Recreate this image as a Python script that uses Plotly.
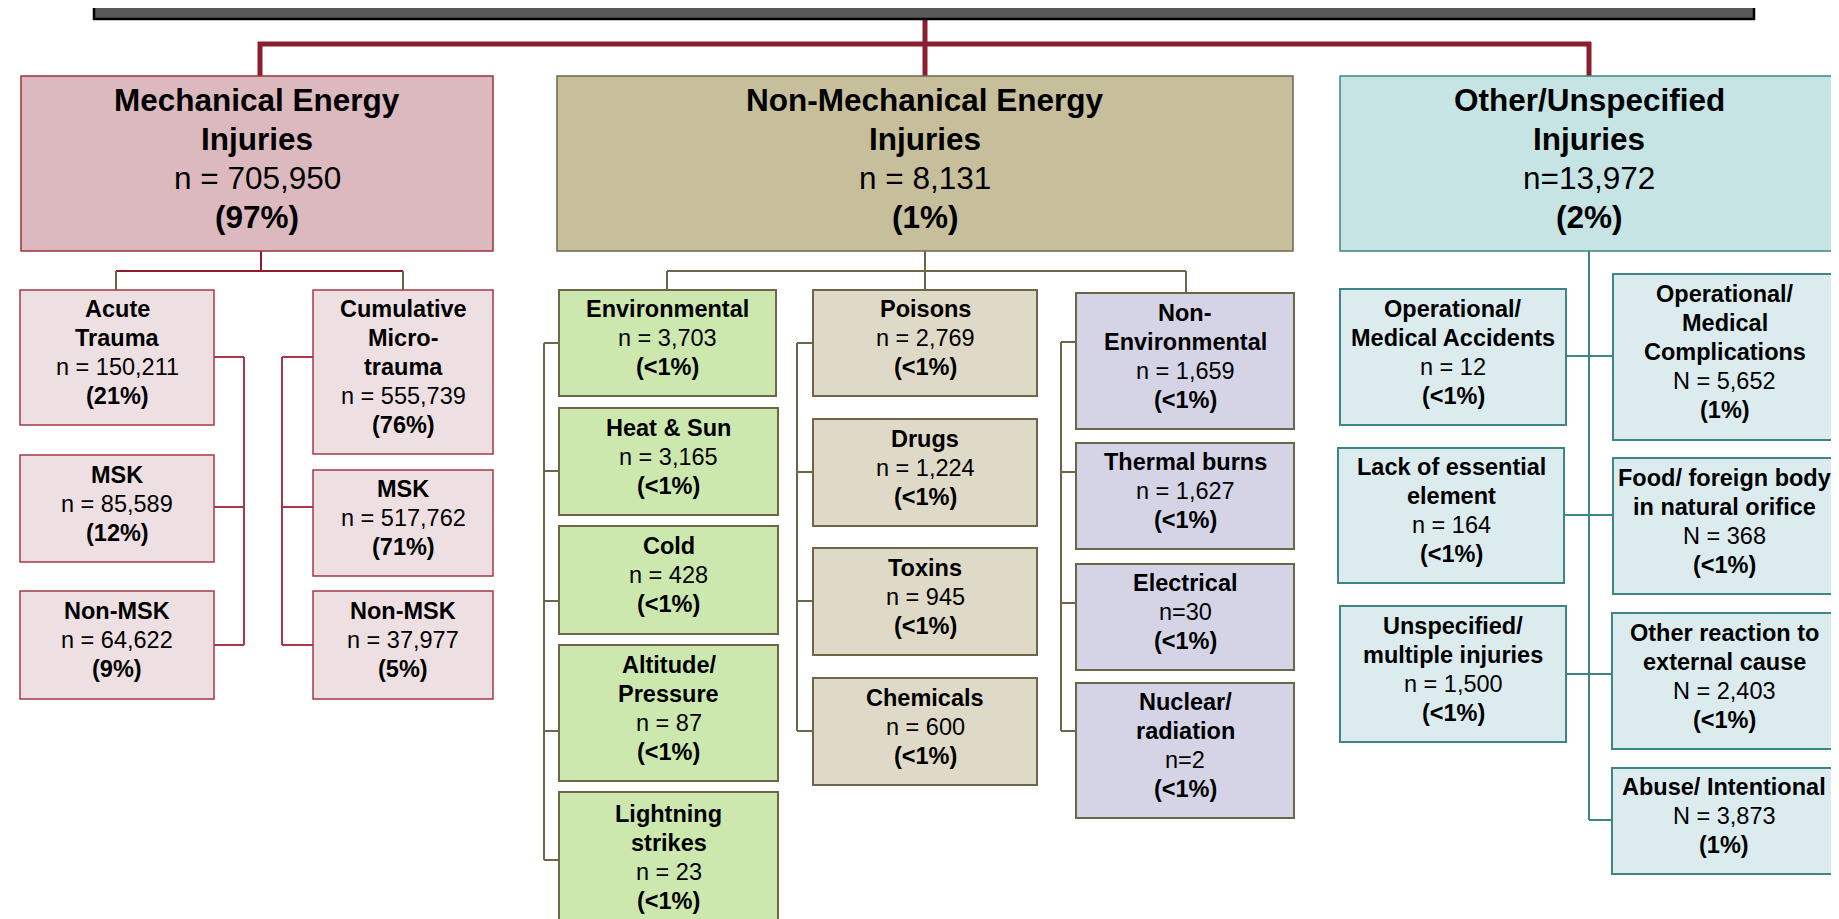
import plotly.graph_objects as go

W, H = 1839, 919
FONT = "Liberation Sans, Arial, sans-serif"

# ---------------- data ----------------
level1_names = ["Mechanical Energy<br>Injuries", "Non-Mechanical Energy<br>Injuries", "Other/Unspecified<br>Injuries"]
level1_counts = [705950, 8131, 13972]
level1_prefix = ["n = ", "n = ", "n="]
level1_pct = ["97%", "1%", "2%"]

mech_names = ["Acute<br>Trauma", "MSK", "Non-MSK", "Cumulative<br>Micro-<br>trauma", "MSK", "Non-MSK"]
mech_counts = [150211, 85589, 64622, 555739, 517762, 37977]
mech_pct = ["21%", "12%", "9%", "76%", "71%", "5%"]

env_names = ["Environmental", "Heat &amp; Sun", "Cold", "Altitude/<br>Pressure", "Lightning<br>strikes"]
env_counts = [3703, 3165, 428, 87, 23]
env_pct = ["<1%", "<1%", "<1%", "<1%", "<1%"]

poison_names = ["Poisons", "Drugs", "Toxins", "Chemicals"]
poison_counts = [2769, 1224, 945, 600]
poison_pct = ["<1%", "<1%", "<1%", "<1%"]

nonenv_names = ["Non-<br>Environmental", "Thermal burns", "Electrical", "Nuclear/<br>radiation"]
nonenv_counts = [1659, 1627, 30, 2]
nonenv_prefix = ["n = ", "n = ", "n=", "n="]
nonenv_pct = ["<1%", "<1%", "<1%", "<1%"]

other_names = ["Operational/<br>Medical Accidents", "Lack of essential<br>element", "Unspecified/<br>multiple injuries",
               "Operational/<br>Medical<br>Complications", "Food/ foreign body<br>in natural orifice",
               "Other reaction to<br>external cause", "Abuse/ Intentional"]
other_counts = [12, 164, 1500, 5652, 368, 2403, 3873]
other_prefix = ["n = ", "n = ", "n = ", "N = ", "N = ", "N = ", "N = "]
other_pct = ["<1%", "<1%", "<1%", "1%", "<1%", "<1%", "1%"]

# ---------------- layout (positions / styles) ----------------
RED = "#8C1D2E"
OLIVE = "#6E6648"
TEAL = "#3E8585"
MR = "#A6384A"

level1_boxes = [(13, 485, 68, 243), (549, 1285, 68, 243), (1332, 1830, 68, 243)]
level1_fill = ["#DBB9BF", "#C7BE9C", "#C6E4E4"]
level1_line = ["#A0303F", OLIVE, TEAL]

mech_boxes = [(12, 206, 282, 417), (12, 206, 447, 554), (12, 206, 583, 691),
              (305, 485, 282, 446), (305, 485, 462, 568), (305, 485, 583, 691)]
env_boxes = [(551, 768, 282, 388), (551, 770, 400, 507), (551, 770, 518, 626),
             (551, 770, 637, 773), (551, 770, 784, 925)]
poison_boxes = [(805, 1029, 282, 388), (805, 1029, 411, 518), (805, 1029, 540, 647), (805, 1029, 670, 777)]
nonenv_boxes = [(1068, 1286, 285, 421), (1068, 1286, 435, 541), (1068, 1286, 556, 662), (1068, 1286, 675, 810)]
other_boxes = [(1332, 1558, 281, 417), (1330, 1556, 440, 575), (1332, 1558, 598, 734),
               (1605, 1828, 266, 432), (1605, 1828, 450, 586), (1604, 1829, 605, 741), (1604, 1828, 760, 866)]

BIG, BIG_LS = 31.5, 39
SMALL, SMALL_LS = 23.5, 29
Y_SHIFT = -5

shapes = []
annotations = []


def add_box(box, fill, line, width=1.5):
    x0, x1, y0, y1 = box
    shapes.append(dict(type="rect", xref="x", yref="y", x0=x0, x1=x1, y0=y0, y1=y1,
                       fillcolor=fill, line=dict(color=line, width=width), layer="below"))


def add_text(box, name, count, prefix, pct, size, ls):
    x0, x1, y0, y1 = box
    lines = [f"<b>{t}</b>" for t in name.split("<br>")]
    lines.append(f"{prefix}{count:,}")
    lines.append(f"<b>({pct.replace('<', '&lt;')})</b>")
    n = len(lines)
    yc = (y0 + y1) / 2 + Y_SHIFT
    for i, t in enumerate(lines):
        annotations.append(dict(x=(x0 + x1) / 2, y=yc + (i - (n - 1) / 2) * ls, xref="x", yref="y", text=t,
                                showarrow=False, align="center", xanchor="center", yanchor="middle",
                                font=dict(family=FONT, size=size, color="black")))


def seg(x0, y0, x1, y1, color, width=2):
    shapes.append(dict(type="line", xref="x", yref="y", x0=x0, y0=y0, x1=x1, y1=y1,
                       line=dict(color=color, width=width), layer="below"))


# top dark bar
shapes.append(dict(type="rect", xref="x", yref="y", x0=86, x1=1746, y0=-20, y1=11,
                   fillcolor="#595959", line=dict(color="black", width=2.5)))

# thick red connectors
seg(917, 11, 917, 68, RED, 5)
seg(250, 36, 1583, 36, RED, 5)
seg(252, 34, 252, 68, RED, 5)
seg(1581, 34, 1581, 68, RED, 5)

# mechanical connectors
seg(253, 243, 253, 263, RED)
seg(108, 263, 395, 263, RED)
seg(108, 263, 108, 282, OLIVE)
seg(395, 263, 395, 282, OLIVE)
seg(236, 349, 236, 637, MR)
for yy in (349, 499, 637):
    seg(206, yy, 236, yy, MR)
seg(274, 349, 274, 637, MR)
for yy in (349, 499, 637):
    seg(274, yy, 305, yy, MR)

# non-mechanical connectors
seg(917, 243, 917, 282, OLIVE)
seg(659, 263, 1178, 263, OLIVE)
seg(659, 263, 659, 282, OLIVE)
seg(1178, 263, 1178, 285, OLIVE)
seg(536, 335, 536, 852, OLIVE)
for yy in (335, 463, 593, 723, 852):
    seg(536, yy, 551, yy, OLIVE)
seg(789, 335, 789, 723, OLIVE)
for yy in (335, 464, 593, 723):
    seg(789, yy, 805, yy, OLIVE)
seg(1053, 334, 1053, 723, OLIVE)
for yy in (334, 464, 595, 723):
    seg(1053, yy, 1068, yy, OLIVE)

# other connectors
seg(1581, 243, 1581, 812, TEAL)
seg(1558, 348, 1605, 348, TEAL)
seg(1556, 507, 1605, 507, TEAL)
seg(1558, 666, 1604, 666, TEAL)
seg(1581, 812, 1604, 812, TEAL)

# boxes + text
for i in range(3):
    add_box(level1_boxes[i], level1_fill[i], level1_line[i])
    add_text(level1_boxes[i], level1_names[i], level1_counts[i], level1_prefix[i], level1_pct[i], BIG, BIG_LS)

for i in range(6):
    add_box(mech_boxes[i], "#EEDFE2", MR)
    add_text(mech_boxes[i], mech_names[i], mech_counts[i], "n = ", mech_pct[i], SMALL, SMALL_LS)

for i in range(5):
    add_box(env_boxes[i], "#CDE8AF", OLIVE, 2)
    add_text(env_boxes[i], env_names[i], env_counts[i], "n = ", env_pct[i], SMALL, SMALL_LS)

for i in range(4):
    add_box(poison_boxes[i], "#DFD9C7", OLIVE, 2)
    add_text(poison_boxes[i], poison_names[i], poison_counts[i], "n = ", poison_pct[i], SMALL, SMALL_LS)

for i in range(4):
    add_box(nonenv_boxes[i], "#D5D3E6", OLIVE, 2)
    add_text(nonenv_boxes[i], nonenv_names[i], nonenv_counts[i], nonenv_prefix[i], nonenv_pct[i], SMALL, SMALL_LS)

for i in range(7):
    add_box(other_boxes[i], "#DCEBEE", TEAL, 2)
    add_text(other_boxes[i], other_names[i], other_counts[i], other_prefix[i], other_pct[i], SMALL, SMALL_LS)

fig = go.Figure()
fig.add_trace(go.Scatter(x=[0, W], y=[0, H], mode="markers", marker=dict(opacity=0), hoverinfo="skip",
                         showlegend=False))
fig.update_layout(
    width=W, height=H, margin=dict(l=0, r=0, t=0, b=0),
    paper_bgcolor="white", plot_bgcolor="white",
    xaxis=dict(range=[0, W], visible=False, fixedrange=True),
    yaxis=dict(range=[H, 0], visible=False, fixedrange=True),
    shapes=shapes, annotations=annotations, showlegend=False,
)
fig.write_html("out.html", config={"displayModeBar": False})
